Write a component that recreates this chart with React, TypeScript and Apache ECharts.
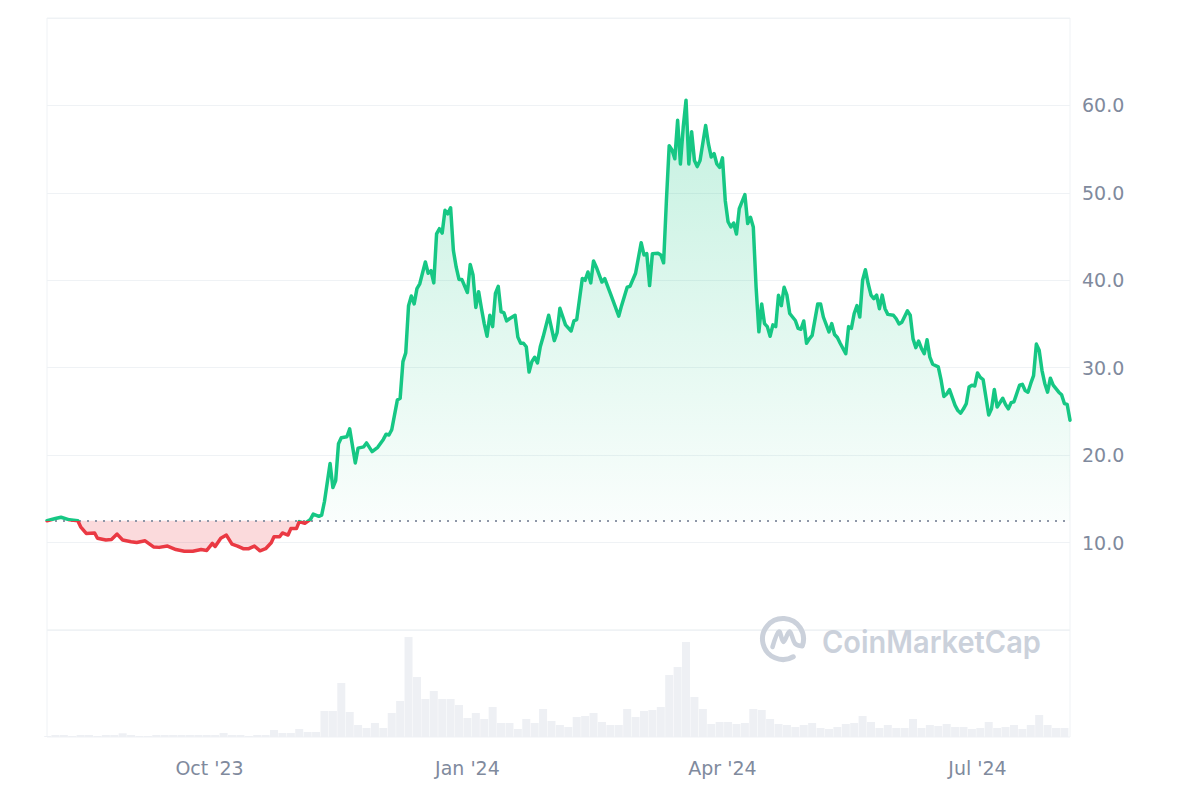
import React, { useEffect, useRef } from 'react';
import * as echarts from 'echarts';

const BASE_PRICE = 12.5;

const priceDates = [
  '2023-08-04','2023-08-07','2023-08-09','2023-08-12','2023-08-15','2023-08-16','2023-08-18','2023-08-21','2023-08-22','2023-08-25',
  '2023-08-27','2023-08-29','2023-08-31','2023-09-03','2023-09-05','2023-09-08','2023-09-11','2023-09-13','2023-09-16','2023-09-19',
  '2023-09-22','2023-09-25','2023-09-28','2023-09-30','2023-10-02','2023-10-03','2023-10-05','2023-10-07','2023-10-09','2023-10-11',
  '2023-10-13','2023-10-15','2023-10-17','2023-10-19','2023-10-21','2023-10-23','2023-10-24','2023-10-26','2023-10-27','2023-10-29',
  '2023-10-30','2023-11-01','2023-11-02','2023-11-04','2023-11-06','2023-11-07','2023-11-09','2023-11-10','2023-11-11','2023-11-13',
  '2023-11-14','2023-11-15','2023-11-16','2023-11-17','2023-11-19','2023-11-20','2023-11-22','2023-11-23','2023-11-25','2023-11-26',
  '2023-11-28','2023-11-30','2023-12-02','2023-12-03','2023-12-04','2023-12-05','2023-12-07','2023-12-08','2023-12-09','2023-12-10',
  '2023-12-11','2023-12-12','2023-12-13','2023-12-14','2023-12-15','2023-12-17','2023-12-18','2023-12-19','2023-12-20','2023-12-21',
  '2023-12-22','2023-12-23','2023-12-24','2023-12-25','2023-12-26','2023-12-27','2023-12-28','2023-12-29','2023-12-30','2024-01-01',
  '2024-01-02','2024-01-03','2024-01-04','2024-01-05','2024-01-06','2024-01-07','2024-01-08','2024-01-09','2024-01-10','2024-01-11',
  '2024-01-12','2024-01-13','2024-01-14','2024-01-15','2024-01-16','2024-01-18','2024-01-19','2024-01-20','2024-01-21','2024-01-22',
  '2024-01-23','2024-01-24','2024-01-25','2024-01-26','2024-01-27','2024-01-28','2024-01-30','2024-02-01','2024-02-02','2024-02-03',
  '2024-02-05','2024-02-07','2024-02-08','2024-02-09','2024-02-11','2024-02-12','2024-02-13','2024-02-14','2024-02-15','2024-02-16',
  '2024-02-18','2024-02-19','2024-02-21','2024-02-24','2024-02-25','2024-02-27','2024-02-28','2024-03-01','2024-03-03','2024-03-04',
  '2024-03-05','2024-03-06','2024-03-07','2024-03-09','2024-03-10','2024-03-11','2024-03-12','2024-03-13','2024-03-14','2024-03-15',
  '2024-03-16','2024-03-17','2024-03-18','2024-03-19','2024-03-20','2024-03-21','2024-03-22','2024-03-23','2024-03-24','2024-03-26',
  '2024-03-27','2024-03-28','2024-03-29','2024-03-30','2024-03-31','2024-04-01','2024-04-02','2024-04-03','2024-04-04','2024-04-05',
  '2024-04-06','2024-04-07','2024-04-09','2024-04-10','2024-04-11','2024-04-12','2024-04-13','2024-04-14','2024-04-15','2024-04-16',
  '2024-04-17','2024-04-18','2024-04-19','2024-04-20','2024-04-21','2024-04-22','2024-04-23','2024-04-24','2024-04-25','2024-04-27',
  '2024-04-28','2024-04-29','2024-04-30','2024-05-01','2024-05-02','2024-05-03','2024-05-05','2024-05-06','2024-05-07','2024-05-09',
  '2024-05-10','2024-05-11','2024-05-12','2024-05-13','2024-05-15','2024-05-16','2024-05-17','2024-05-18','2024-05-19','2024-05-20',
  '2024-05-21','2024-05-22','2024-05-23','2024-05-24','2024-05-25','2024-05-26','2024-05-27','2024-05-28','2024-05-29','2024-05-30',
  '2024-06-01','2024-06-02','2024-06-03','2024-06-04','2024-06-06','2024-06-07','2024-06-08','2024-06-09','2024-06-10','2024-06-11',
  '2024-06-12','2024-06-13','2024-06-14','2024-06-15','2024-06-17','2024-06-18','2024-06-19','2024-06-20','2024-06-21','2024-06-23',
  '2024-06-24','2024-06-25','2024-06-26','2024-06-27','2024-06-28','2024-06-29','2024-06-30','2024-07-01','2024-07-02','2024-07-03',
  '2024-07-05','2024-07-06','2024-07-07','2024-07-08','2024-07-10','2024-07-11','2024-07-12','2024-07-13','2024-07-14','2024-07-16',
  '2024-07-17','2024-07-18','2024-07-19','2024-07-20','2024-07-21','2024-07-22','2024-07-23','2024-07-24','2024-07-25','2024-07-26',
  '2024-07-27','2024-07-28','2024-07-30','2024-07-31','2024-08-01','2024-08-02','2024-08-03'
];

const priceValues = [
  12.5, 12.75, 12.9, 12.6, 12.5, 11.8, 11.05, 11.1, 10.5, 10.3,
  10.35, 10.97, 10.3, 10.1, 10.0, 10.2, 9.5, 9.45, 9.6, 9.2,
  9.0, 9.0, 9.2, 9.1, 9.9, 9.55, 10.5, 10.86, 9.83, 9.6,
  9.3, 9.3, 9.6, 9.06, 9.3, 9.98, 10.67, 10.67, 11.1, 10.86,
  11.6, 11.6, 12.4, 12.2, 12.65, 13.26, 13.0, 13.14, 14.7, 19.05,
  16.3, 17.1, 21.3, 22.0, 22.1, 23.0, 19.1, 20.8, 20.95, 21.4,
  20.4, 20.9, 21.8, 22.4, 22.3, 22.9, 26.3, 26.5, 30.7, 31.7,
  37.1, 38.2, 37.3, 39.05, 39.6, 42.1, 40.8, 41.1, 39.7, 45.3,
  45.9, 45.4, 48.0, 47.6, 48.3, 43.4, 41.5, 40.1, 40.1, 38.6,
  41.8, 40.6, 36.9, 38.7, 36.8, 35.05, 33.6, 36.0, 34.7, 38.5,
  39.3, 36.4, 36.3, 35.35, 35.6, 36.0, 33.5, 32.8, 32.8, 32.4,
  29.5, 30.7, 31.2, 30.55, 32.4, 33.5, 36.0, 33.1, 34.0, 36.8,
  34.9, 34.2, 35.35, 35.5, 40.2, 40.0, 40.95, 39.7, 42.2, 41.5,
  39.8, 40.2, 38.5, 35.9, 37.1, 39.2, 39.3, 40.8, 44.3, 42.9,
  43.05, 39.4, 43.05, 43.1, 42.9, 42.0, 49.1, 55.4, 54.9, 53.9,
  58.3, 53.3, 57.5, 60.6, 53.3, 57.0, 53.7, 53.0, 53.7, 57.7,
  55.6, 54.1, 54.5, 53.3, 52.9, 54.0, 49.1, 46.7, 46.1, 46.55,
  45.3, 48.2, 49.8, 46.5, 47.2, 46.1, 39.2, 34.1, 37.3, 35.05,
  34.7, 33.6, 34.9, 34.7, 38.3, 37.1, 39.2, 38.3, 36.2, 35.4,
  34.5, 34.4, 35.35, 32.8, 33.3, 33.7, 37.3, 37.3, 35.8, 34.1,
  35.05, 33.8, 33.45, 32.8, 31.6, 34.7, 34.5, 36.2, 37.1, 35.8,
  40.0, 41.2, 39.6, 38.3, 37.9, 38.3, 36.75, 38.3, 36.75, 36.1,
  36.0, 35.6, 35.0, 35.2, 36.5, 36.0, 33.3, 32.3, 33.05, 32.2,
  31.6, 33.2, 31.2, 30.4, 30.1, 28.6, 26.7, 27.0, 27.5, 25.7,
  25.1, 24.8, 25.3, 25.9, 27.8, 28.0, 27.9, 29.4, 28.9, 28.65,
  24.6, 25.3, 27.5, 25.5, 26.5, 25.8, 25.3, 26.0, 26.1, 28.0,
  28.1, 27.4, 27.2, 28.2, 29.1, 32.7, 32.0, 29.7, 28.2, 27.2,
  28.8, 28.0, 27.2, 26.9, 25.9, 25.8, 24.0
];

// Trading volume (millions), one reading every 3 days starting 2023-08-04
const volumeStepDays = 3;
const volumeValues = [
  1, 2, 2, 1, 2, 2, 1, 2, 2, 3.7,
  2, 1, 1, 2, 2, 2, 2, 2, 2, 2,
  2, 4, 2, 2, 1, 2, 2, 7, 4, 4,
  8, 5, 5, 26, 26, 54, 25, 12, 9, 14,
  9, 24, 36, 100, 60, 38, 46, 38, 38, 32,
  19, 24, 18, 30, 14, 14, 8, 18, 14, 28,
  16, 12, 10, 20, 21, 24, 15, 12, 12, 28,
  20, 26, 27, 30, 62, 70, 95, 40, 28, 13,
  15, 15, 13, 14, 28, 27, 18, 13, 12, 10,
  12, 14, 9, 8, 10, 13, 14, 21, 15, 9,
  12, 9, 9, 18, 9, 12, 11, 13, 10, 10,
  8, 9, 15, 9, 10, 12, 8, 12, 22, 12,
  9, 9
];

const axisStart = '2023-08-04';
const axisEnd = '2024-08-03';
const xTickDates = ['2023-10-01', '2024-01-01', '2024-04-01', '2024-07-01'];
const MONTHS = ['Jan', 'Feb', 'Mar', 'Apr', 'May', 'Jun', 'Jul', 'Aug', 'Sep', 'Oct', 'Nov', 'Dec'];

function toTs(s: string, addDays = 0): number {
  const [y, m, d] = s.split('-').map(Number);
  return new Date(y, m - 1, d + addDays).getTime();
}
function fmtDay(ts: number): string {
  const d = new Date(ts);
  const mm = String(d.getMonth() + 1).padStart(2, '0');
  const dd = String(d.getDate()).padStart(2, '0');
  return `${d.getFullYear()}-${mm}-${dd}`;
}

const GREEN = '#16c784';
const RED = '#ea3943';
const GRID_COLOR = '#eff2f5';
const LABEL_COLOR = '#808a9d';
const LABEL_FONT = 'DejaVu Sans, sans-serif';

export default function App() {
  const ref = useRef<HTMLDivElement>(null);

  useEffect(() => {
    document.body.style.margin = '0';
    if (!ref.current) return;
    const chart = echarts.init(ref.current, undefined, { renderer: 'svg' });

    const xMin = toTs(axisStart);
    const xMax = toTs(axisEnd);

    // daily category list for the bottom (volume) axis
    const dayCategories: string[] = [];
    for (let i = 0; ; i++) {
      const ts = toTs(axisStart, i);
      if (ts > xMax) break;
      dayCategories.push(fmtDay(ts));
    }
    const volumeData: (number | null)[] = dayCategories.map(() => null);
    volumeValues.forEach((v, i) => {
      const idx = i * volumeStepDays;
      if (idx < volumeData.length) volumeData[idx] = v;
    });

    const priceData = priceDates.map((d, i) => [toTs(d), priceValues[i]]);
    const upData = priceDates.map((d, i) => [toTs(d), Math.max(priceValues[i], BASE_PRICE)]);
    const downData = priceDates.map((d, i) => [toTs(d), Math.min(priceValues[i], BASE_PRICE)]);

    const wm = '#cbd1db';

    chart.setOption({
      animation: false,
      backgroundColor: '#ffffff',
      grid: [
        { left: 47, right: 130, top: 18, height: 612, show: true, borderColor: GRID_COLOR, borderWidth: 1, backgroundColor: 'transparent' },
        { left: 47, right: 130, top: 630, height: 107, show: true, borderColor: GRID_COLOR, borderWidth: 1, backgroundColor: 'transparent' }
      ],
      xAxis: [
        {
          type: 'value', gridIndex: 0, min: xMin, max: xMax, scale: true,
          axisLine: { show: false }, axisTick: { show: false }, axisLabel: { show: false }, splitLine: { show: false }
        },
        {
          type: 'category', gridIndex: 1, data: dayCategories, boundaryGap: false,
          axisLine: { show: false }, axisTick: { show: false }, splitLine: { show: false },
          axisLabel: {
            interval: (_idx: number, value: string) => xTickDates.indexOf(value) >= 0,
            formatter: (value: string) => {
              const [y, m] = value.split('-').map(Number);
              return `${MONTHS[m - 1]} '${String(y).slice(2)}`;
            },
            color: LABEL_COLOR, fontSize: 19, fontFamily: LABEL_FONT, margin: 21
          }
        }
      ],
      yAxis: [
        {
          type: 'value', gridIndex: 0, position: 'right', min: 0, max: 70, interval: 10,
          axisLine: { show: false }, axisTick: { show: false },
          splitLine: { show: true, lineStyle: { color: GRID_COLOR, width: 1 } },
          axisLabel: {
            formatter: (v: number) => (v === 0 || v === 70 ? '' : v.toFixed(1)),
            color: LABEL_COLOR, fontSize: 19, fontFamily: LABEL_FONT, margin: 12
          }
        },
        {
          type: 'value', gridIndex: 1, min: 0, max: 107, show: false
        }
      ],
      visualMap: [
        {
          type: 'piecewise', show: false, seriesIndex: 0, dimension: 1,
          pieces: [
            { gt: 0, lte: BASE_PRICE, color: RED },
            { gt: BASE_PRICE, lte: 1000, color: GREEN }
          ]
        }
      ],
      series: [
        {
          name: 'Price', type: 'line', xAxisIndex: 0, yAxisIndex: 0, data: priceData,
          showSymbol: false, z: 5,
          lineStyle: { width: 3.5, join: 'round', cap: 'round' },
          markLine: {
            silent: true, symbol: 'none', label: { show: false },
            lineStyle: { color: '#8f97a8', width: 2, type: [2, 6] },
            data: [{ yAxis: BASE_PRICE }]
          }
        },
        {
          name: 'Above', type: 'line', xAxisIndex: 0, yAxisIndex: 0, data: upData,
          showSymbol: false, silent: true, z: 2,
          lineStyle: { width: 0, opacity: 0 },
          areaStyle: {
            origin: BASE_PRICE,
            color: new echarts.graphic.LinearGradient(0, 0, 0, 1, [
              { offset: 0, color: 'rgba(22,199,132,0.36)' },
              { offset: 1, color: 'rgba(22,199,132,0.03)' }
            ])
          }
        },
        {
          name: 'Below', type: 'line', xAxisIndex: 0, yAxisIndex: 0, data: downData,
          showSymbol: false, silent: true, z: 2,
          lineStyle: { width: 0, opacity: 0 },
          areaStyle: { origin: BASE_PRICE, color: 'rgba(234,57,67,0.27)' }
        },
        {
          name: 'Volume', type: 'bar', xAxisIndex: 1, yAxisIndex: 1, data: volumeData,
          barWidth: 8, silent: true,
          itemStyle: { color: '#eef0f4' }
        }
      ],
      graphic: [
        {
          type: 'arc', z: 100, silent: true,
          shape: { cx: 783, cy: 639, r: 20.5, startAngle: (60 * Math.PI) / 180, endAngle: (380 * Math.PI) / 180, clockwise: true },
          style: { stroke: wm, lineWidth: 5, fill: 'none', lineCap: 'round' }
        },
        {
          type: 'polyline', z: 100, silent: true,
          shape: {
            points: [[772.5, 647], [779, 631.5], [783.5, 642], [789.5, 631.5], [795, 643.5], [801, 646]],
            smooth: 0.35
          },
          style: { stroke: wm, lineWidth: 4.5, fill: 'none', lineCap: 'round', lineJoin: 'round' }
        },
        {
          type: 'text', z: 100, silent: true, x: 822, y: 642, scaleX: 0.935, originX: 0, originY: 0,
          style: { text: 'CoinMarketCap', fill: wm, font: '600 31px Inter, sans-serif', align: 'left', verticalAlign: 'middle' }
        }
      ]
    });

    return () => chart.dispose();
  }, []);

  return <div ref={ref} style={{ width: 1200, height: 800 }} />;
}
